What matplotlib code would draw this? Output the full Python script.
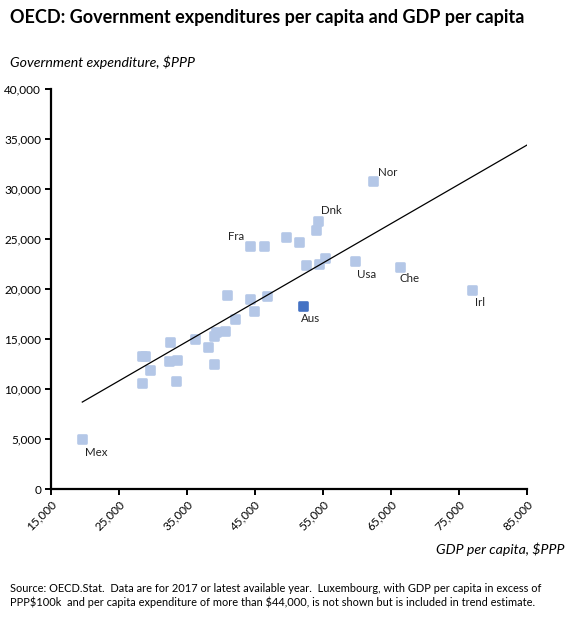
import numpy as np
import matplotlib
matplotlib.use("Agg")
import matplotlib.pyplot as plt
import matplotlib.ticker as mticker
from matplotlib.markers import MarkerStyle

plt.rcParams['font.family'] = ['Lato', 'DejaVu Sans']

# GDP per capita ($PPP) and government expenditure per capita ($PPP)
countries = ["Mex", "", "", "", "", "", "", "", "", "", "",
             "", "", "", "", "", "", "", "", "", "Fra", "",
             "", "", "", "Dnk", "", "", "", "Usa", "Nor", "Che", "Irl"]
gdp = [19600, 28400, 28800, 29600, 28400, 32500, 32400, 33600, 33400, 36200, 38100,
       38900, 39200, 38900, 40600, 42000, 40900, 44900, 44300, 46700, 44200, 46300,
       49600, 51400, 53900, 54300, 52500, 54400, 55300, 59700, 62300, 66300, 76900]
spend = [5000, 13300, 13300, 11900, 10600, 14700, 12800, 12900, 10800, 15000, 14200,
         15300, 15700, 12500, 15800, 17000, 19400, 17800, 19000, 19300, 24300, 24300,
         25200, 24700, 25900, 26800, 22400, 22500, 23100, 22800, 30800, 22200, 19900]

# Australia highlighted
aus_gdp = 52100
aus_spend = 18300

# linear trend (estimated including Luxembourg, which is not shown)
trend_slope = 0.393
trend_intercept = 990
trend_x = [19600, 85000]

x_ticks = [15000, 25000, 35000, 45000, 55000, 65000, 75000, 85000]
y_ticks = [0, 5000, 10000, 15000, 20000, 25000, 30000, 35000, 40000]

# label offsets in pixels (dx, dy down)
label_offsets = {"Mex": (14, 14), "Fra": (-13, -9), "Dnk": (13, -10), "Usa": (12, 14),
                 "Nor": (15, -8), "Che": (10, 12), "Irl": (8, 13), "Aus": (7, 13)}

fig = plt.figure(figsize=(5.76, 6.3), dpi=100)
ax = fig.add_axes([51 / 576, 1 - 489 / 630, 476 / 576, 400 / 630])

light = '#b4c7e7'
dark = '#4472c4'
sq = MarkerStyle('s', joinstyle='round')

tx = np.array(trend_x)
ax.plot(tx, trend_slope * tx + trend_intercept, color='black', linewidth=0.9, zorder=3)

ax.plot(gdp, spend, linestyle='none', marker=sq, markersize=5.4, color=light,
        markeredgecolor=light, markeredgewidth=1.9, zorder=2)
ax.plot([aus_gdp], [aus_spend], linestyle='none', marker=sq, markersize=5.4, color=dark,
        markeredgecolor=dark, markeredgewidth=1.9, zorder=2)

pts = list(zip(countries, gdp, spend)) + [("Aus", aus_gdp, aus_spend)]
for name, x, y in pts:
    if not name:
        continue
    dx, dy = label_offsets[name]
    ax.annotate(name, (x, y), xytext=(dx * 0.72, -dy * 0.72), textcoords='offset points',
                ha='center', va='center', fontsize=8.3, color='#222222')

ax.set_xlim(15000, 85000)
ax.set_ylim(0, 40000)
ax.xaxis.set_major_locator(mticker.FixedLocator(x_ticks))
ax.yaxis.set_major_locator(mticker.FixedLocator(y_ticks))
fmt = mticker.FuncFormatter(lambda v, p: f"{int(v):,}")
ax.xaxis.set_major_formatter(fmt)
ax.yaxis.set_major_formatter(fmt)

for s in ['top', 'right']:
    ax.spines[s].set_visible(False)
for s in ['left', 'bottom']:
    ax.spines[s].set_linewidth(1.6)
ax.tick_params(axis='both', direction='out', length=4, width=1.4, labelsize=8.5, pad=3)
plt.setp(ax.get_xticklabels(), rotation=45, ha='right', rotation_mode='anchor')

fig.text(10 / 576, 1 - 18 / 630, "OECD: Government expenditures per capita and GDP per capita",
         fontsize=13, fontweight='bold', va='center', ha='left')
fig.text(10 / 576, 1 - 62 / 630, "Government expenditure, $PPP", fontsize=10.2,
         style='italic', va='center', ha='left')
fig.text(565 / 576, 1 - 549 / 630, "GDP per capita, $PPP", fontsize=10.2,
         style='italic', va='center', ha='right')
fig.text(10 / 576, 1 - 595.5 / 630,
         "Source: OECD.Stat.  Data are for 2017 or latest available year.  Luxembourg, with GDP per capita in excess of\n"
         "PPP\\$100k  and per capita expenditure of more than \\$44,000, is not shown but is included in trend estimate.",
         fontsize=7.9, va='center', ha='left', linespacing=1.25)

fig.savefig('out.png', dpi=100)
